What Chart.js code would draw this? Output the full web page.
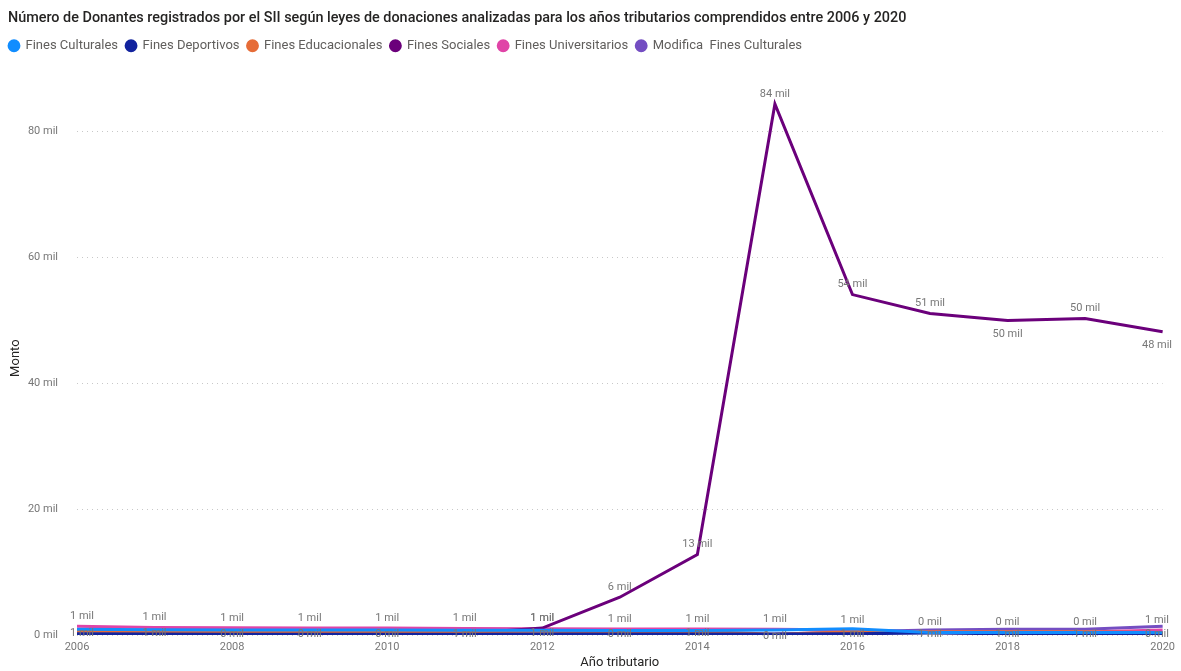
<!DOCTYPE html>
<html>
<head>
<meta charset="utf-8">
<script src="https://cdn.jsdelivr.net/npm/chart.js@4.4.1/dist/chart.umd.min.js"></script>
<style>
  html, body { margin: 0; padding: 0; background: #fff; }
  #wrap { width: 1181px; height: 671px; }
</style>
</head>
<body>
<div id="wrap"><canvas id="donantesChart"></canvas></div>
<script>
// años tributarios
const years = ['2006', '2007', '2008', '2009', '2010', '2011', '2012', '2013', '2014', '2015', '2016', '2017', '2018', '2019', '2020'];

// donantes por ley
const culturales     = [900, 850, 800, 800, 800, 750, 750, 700, 700, 800, 1000, 400, 400, 400, 400];
const deportivos     = [200, 150, 100, 100, 100, 100, 150, 150, 150, 150, 200, 300, 200, 200, 200];
const educacionales  = [600, 550, 450, 450, 450, 500, 600, 450, 600, 100, 500, 500, 500, 500, 400];
const sociales       = [100, 120, 150, 180, 200, 220, 1100, 6000, 12800, 84400, 54100, 51100, 50000, 50300, 48200];
const universitarios = [1400, 1200, 1150, 1100, 1100, 1050, 1000, 950, 950, 900, 800, 480, 490, 490, 800];
const modifica       = [null, null, null, null, null, null, null, null, null, 100, 500, 800, 900, 900, 1400];

const yTicks = [0, 20000, 40000, 60000, 80000];

const gray = '#605E5C';
const fontFam = 'Roboto, "Open Sans", sans-serif';

// etiquetas de datos tipo Power BI
const pointLabels = {
  id: 'pointLabels',
  afterDatasetsDraw(chart) {
    const ctx = chart.ctx;
    ctx.save();
    ctx.font = '11px ' + fontFam;
    ctx.fillStyle = '#777';
    ctx.textAlign = 'center';
    ctx.textBaseline = 'middle';
    chart.data.datasets.forEach((ds, di) => {
      if (!ds.labelMode) return;
      const meta = chart.getDatasetMeta(di);
      meta.data.forEach((pt, i) => {
        const v = ds.data[i];
        if (v == null || i < (ds.labelFrom || 0)) return;
        let dy = -10;
        if (ds.labelMode === 'center') dy = 2;
        if (ds.labelMode === 'peak') {
          const prev = ds.data[i - 1], next = ds.data[i + 1];
          if (prev != null && v < prev && (next == null || v <= next)) dy = 14;
        }
        let x = Math.max(pt.x, 82);
        x = Math.min(x, 1157);
        ctx.fillText(Math.round(v / 1000) + ' mil', x, pt.y + dy);
      });
    });
    ctx.restore();
  }
};

// mas espacio bajo la leyenda y leyenda pegada a la izquierda
const legendMargin = {
  id: 'legendMargin',
  beforeInit(chart) {
    const fit = chart.legend.fit;
    chart.legend.fit = function () {
      fit.bind(chart.legend)();
      this.height += 17;
    };
    const draw = chart.legend.draw;
    chart.legend.draw = function () {
      const c = this.ctx;
      c.save();
      c.translate(-7, -2);
      draw.apply(this, arguments);
      c.restore();
    };
  }
};

function serie(label, data, color, extra) {
  return Object.assign({
    label: label,
    data: data,
    borderColor: color,
    backgroundColor: color,
    borderWidth: 3,
    pointRadius: 0,
    pointHoverRadius: 0,
    tension: 0,
    spanGaps: false
  }, extra || {});
}

const ctx = document.getElementById('donantesChart');

new Chart(ctx, {
  type: 'line',
  data: {
    labels: years,
    datasets: [
      serie('Fines Culturales', culturales, '#118DFF'),
      serie('Fines Deportivos', deportivos, '#12239E'),
      serie('Fines Educacionales', educacionales, '#E66C37', { labelMode: 'center' }),
      serie('Fines Sociales', sociales, '#6B007B', { labelMode: 'peak', labelFrom: 6 }),
      serie('Fines Universitarios', universitarios, '#E044A7', { labelMode: 'above' }),
      serie('Modifica  Fines Culturales', modifica, '#744EC2')
    ]
  },
  options: {
    responsive: true,
    maintainAspectRatio: false,
    animation: false,
    layout: { padding: { left: 8, right: 16, top: 0, bottom: 0 } },
    plugins: {
      title: {
        display: true,
        align: 'start',
        text: 'Número de Donantes registrados por el SII según leyes de donaciones analizadas para los años tributarios comprendidos entre 2006 y 2020',
        color: '#252423',
        font: { family: fontFam, size: 14.4, weight: '500' },
        padding: { top: 10, bottom: 6 }
      },
      legend: {
        align: 'start',
        labels: {
          usePointStyle: true,
          pointStyle: 'circle',
          boxWidth: 10,
          boxHeight: 7,
          padding: 8,
          color: gray,
          font: { family: fontFam, size: 13 }
        }
      },
      tooltip: { enabled: false }
    },
    scales: {
      x: {
        offset: false,
        grid: { display: false, drawTicks: false },
        border: { display: false },
        ticks: {
          autoSkip: false,
          maxRotation: 0,
          padding: 6,
          color: '#777',
          font: { family: fontFam, size: 11 },
          callback: function (val, i) { return i % 2 === 0 ? this.getLabelForValue(val) : ''; }
        },
        title: {
          display: true,
          text: 'Año tributario',
          color: '#252423',
          font: { family: fontFam, size: 13 },
          padding: { top: 2, bottom: 0 }
        },
        afterFit: function (scale) { scale.height = 36; }
      },
      y: {
        min: 0,
        max: 88000,
        grid: { color: '#c8c8c8', drawTicks: false, lineWidth: 1 },
        border: { display: false, dash: [1, 4] },
        ticks: {
          padding: 19,
          color: '#777',
          font: { family: fontFam, size: 11 },
          callback: v => (v / 1000) + ' mil'
        },
        afterBuildTicks: function (scale) {
          scale.ticks = yTicks.map(v => ({ value: v }));
        },
        title: {
          display: true,
          text: 'Monto',
          color: '#252423',
          font: { family: fontFam, size: 13 },
          padding: 0
        },
        afterFit: function (scale) { scale.width = 69; }
      }
    }
  },
  plugins: [pointLabels, legendMargin]
});
</script>
</body>
</html>
